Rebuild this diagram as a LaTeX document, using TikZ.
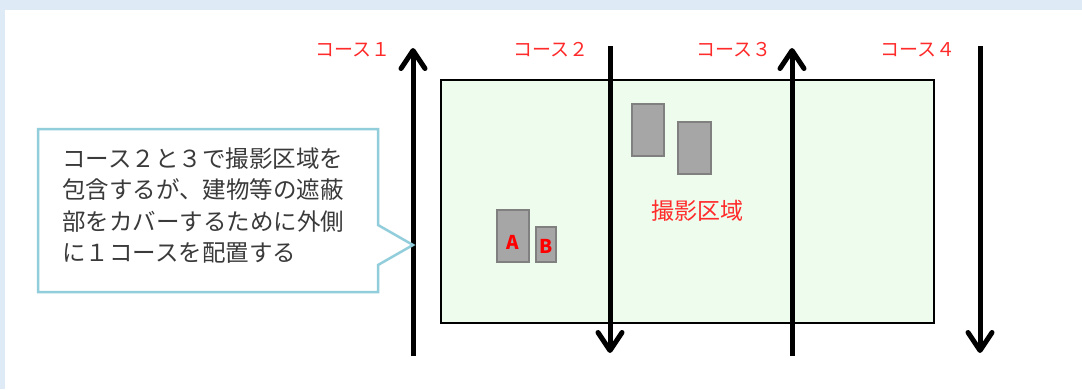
\documentclass[tikz,border=0pt]{standalone}
\usepackage{fontspec}
\setmainfont{Noto Sans CJK JP}
\usetikzlibrary{arrows.meta}
\definecolor{bandblue}{HTML}{DEEAF6}
\definecolor{areagreen}{HTML}{EEFCEE}
\definecolor{bldgfill}{HTML}{A6A6A6}
\definecolor{bldgline}{HTML}{808080}
\definecolor{callline}{HTML}{92CDDC}
\definecolor{labred}{HTML}{FF2A2A}
\definecolor{txtgray}{HTML}{3A3A3A}
\tikzset{
  course/.style={line width=5pt,-{Straight Barb[length=18pt,width=24pt,line width=5pt,round]}},
  bldg/.style={draw=bldgline,fill=bldgfill,line width=2pt,inner sep=0pt},
  clabel/.style={text=labred,font=\fontsize{19}{21}\selectfont,inner sep=0pt,anchor=east},
  blabel/.style={text=red,font=\fontsize{19}{21}\selectfont\bfseries,inner sep=0pt},
}
\begin{document}
\begin{tikzpicture}[x=1pt,y=-1pt]
\useasboundingbox (0,0) rectangle (1082,389);
\fill[bandblue] (0,0) rectangle (1082,389);
\fill[white] (5,10) rectangle (1082,389);
% survey area
\node[draw=black,fill=areagreen,line width=2.2pt,minimum width=493pt,minimum height=243pt,inner sep=0pt,anchor=north west] (area) at (440,79) {};
\node[text=labred,font=\fontsize{23}{26}\selectfont,inner sep=0pt] (areatext) at (697,211) {撮影区域};
% buildings
\node[bldg,minimum width=32pt,minimum height=52pt,anchor=north west] (bA) at (496,209) {};
\node[blabel] at ([yshift=-6pt]bA.center) {A};
\node[bldg,minimum width=20pt,minimum height=35pt,anchor=north west] (bB) at (535,226) {};
\node[blabel] at ([yshift=-2pt]bB.center) {B};
\node[bldg,minimum width=32pt,minimum height=52pt,anchor=north west] (bC) at (631,103) {};
\node[bldg,minimum width=33pt,minimum height=52pt,anchor=north west] (bD) at (677,121) {};
% courses
\coordinate (c1s) at (413,356); \coordinate (c1e) at (413,48);
\coordinate (c2s) at (610,46);  \coordinate (c2e) at (610,353);
\coordinate (c3s) at (792,356); \coordinate (c3e) at (792,48);
\coordinate (c4s) at (980,46);  \coordinate (c4e) at (980,353);
\draw[course] (c1s) -- (c1e);
\draw[course] (c2s) -- (c2e);
\draw[course] (c3s) -- (c3e);
\draw[course] (c4s) -- (c4e);
\node[clabel] (l1) at (391,50) {コース１};
\node[clabel] (l2) at (589,50) {コース２};
\node[clabel] (l3) at (772,50) {コース３};
\node[clabel] (l4) at (956,50) {コース４};
% callout
\coordinate (tip) at (413,245);
\draw[callline,fill=white,line width=2.5pt,line join=miter]
  (38,129) -- (378,129) -- (378,225) -- (tip) -- (378,265) -- (378,292) -- (38,292) -- cycle;
\node[text=txtgray,font=\fontsize{23.5}{31.5}\selectfont,align=left,inner sep=0pt,anchor=west] (note) at (62,205.5)
  {コース２と３で撮影区域を\\包含するが、建物等の遮蔽\\部をカバーするために外側\\に１コースを配置する};
\end{tikzpicture}
\end{document}
